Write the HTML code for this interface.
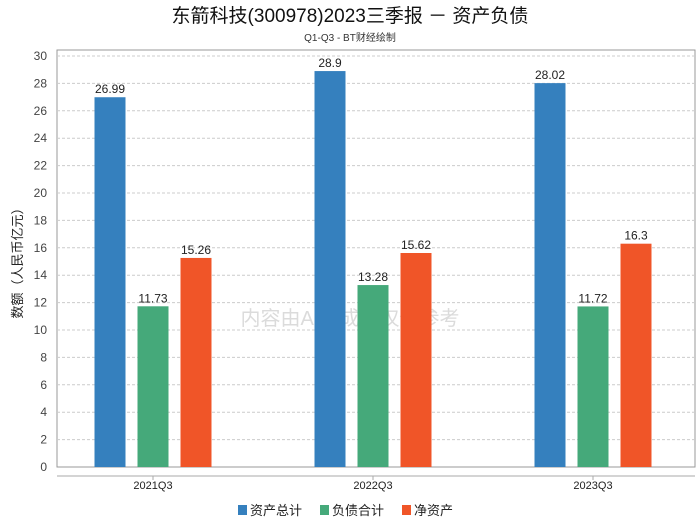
<!DOCTYPE html>
<html><head><meta charset="utf-8"><style>
body{margin:0;background:#fff;font-family:"Liberation Sans","Noto Sans CJK SC",sans-serif}
</style></head><body>
<svg id="c" width="700" height="524" xmlns="http://www.w3.org/2000/svg">
<text x="350" y="22" text-anchor="middle" font-size="19" fill="#111" font-family="Liberation Sans,Noto Sans CJK SC,sans-serif">东箭科技(300978)2023三季报 － 资产负债</text>
<text x="350" y="41" text-anchor="middle" font-size="10" fill="#333" font-family="Liberation Sans,Noto Sans CJK SC,sans-serif">Q1-Q3 - BT财经绘制</text>
<rect x="57" y="50" width="638" height="417" fill="none" stroke="#999"/>
<text transform="translate(22,260) rotate(-90)" text-anchor="middle" font-size="13" fill="#222" font-family="Liberation Sans,Noto Sans CJK SC,sans-serif">数额（人民币亿元）</text>
<text x="350" y="325" text-anchor="middle" font-size="20" fill="#ccc" opacity="0.7" font-family="Liberation Sans,Noto Sans CJK SC,sans-serif">内容由AI生成，仅供参考</text>
<g id="grid"></g><g id="bars"></g>
<line x1="57" y1="476" x2="695" y2="476" stroke="#aaa"/>
<g font-size="13" font-family="Liberation Sans,Noto Sans CJK SC,sans-serif" fill="#222">
<rect x="238" y="505" width="9" height="10" fill="#3580be"/>
<text x="250" y="515">资产总计</text>
<rect x="320" y="505" width="9" height="10" fill="#45a97a"/>
<text x="332" y="515">负债合计</text>
<rect x="402" y="505" width="9" height="10" fill="#f05528"/>
<text x="414" y="515">净资产</text>
</g>
</svg>
<script>
const categories=["2021Q3","2022Q3","2023Q3"];
const assets=[26.99,28.9,28.02];
const liabilities=[11.73,13.28,11.72];
const equity=[15.26,15.62,16.3];
const yTicks=[0,2,4,6,8,10,12,14,16,18,20,22,24,26,28,30];
const NS="http://www.w3.org/2000/svg";
const y=v=>467-v*(411/30);
const x=i=>153+i*220;
const grid=document.getElementById('grid'),bars=document.getElementById('bars');
function mk(tag,a,p){const e=document.createElementNS(NS,tag);for(const k in a)e.setAttribute(k,a[k]);p.appendChild(e);return e;}
yTicks.forEach(t=>{
  if(t>0){const l=mk('line',{x1:57,x2:695,y1:y(t),y2:y(t),stroke:'#ccc','stroke-dasharray':'3,2'},grid);
  
  }
  const tx=mk('text',{x:47,y:y(t)+4,'text-anchor':'end','font-size':12,fill:'#444'},grid);
  tx.textContent=t;
  
  
});
const series=[[assets,'#3580be',-43],[liabilities,'#45a97a',0],[equity,'#f05528',43]];
categories.forEach((c,i)=>{
  const tl=mk('text',{x:x(i),y:489,'text-anchor':'middle','font-size':11,fill:'#222'},bars);
  tl.textContent=c;
  
  
  const tk=mk('line',{x1:x(i),x2:x(i),y1:476,y2:480,stroke:'#aaa'},bars);
  
  
  series.forEach(([arr,col,off])=>{
    const v=arr[i],cx=x(i)+off;
    const r=mk('rect',{x:cx-15.5,y:y(v),width:31,height:467-y(v),fill:col},bars);
    
    
    const t=mk('text',{x:cx,y:y(v)-4,'text-anchor':'middle','font-size':12,fill:'#222'},bars);
    t.textContent=v;
    
    
  });
});
</script>
</body></html>
